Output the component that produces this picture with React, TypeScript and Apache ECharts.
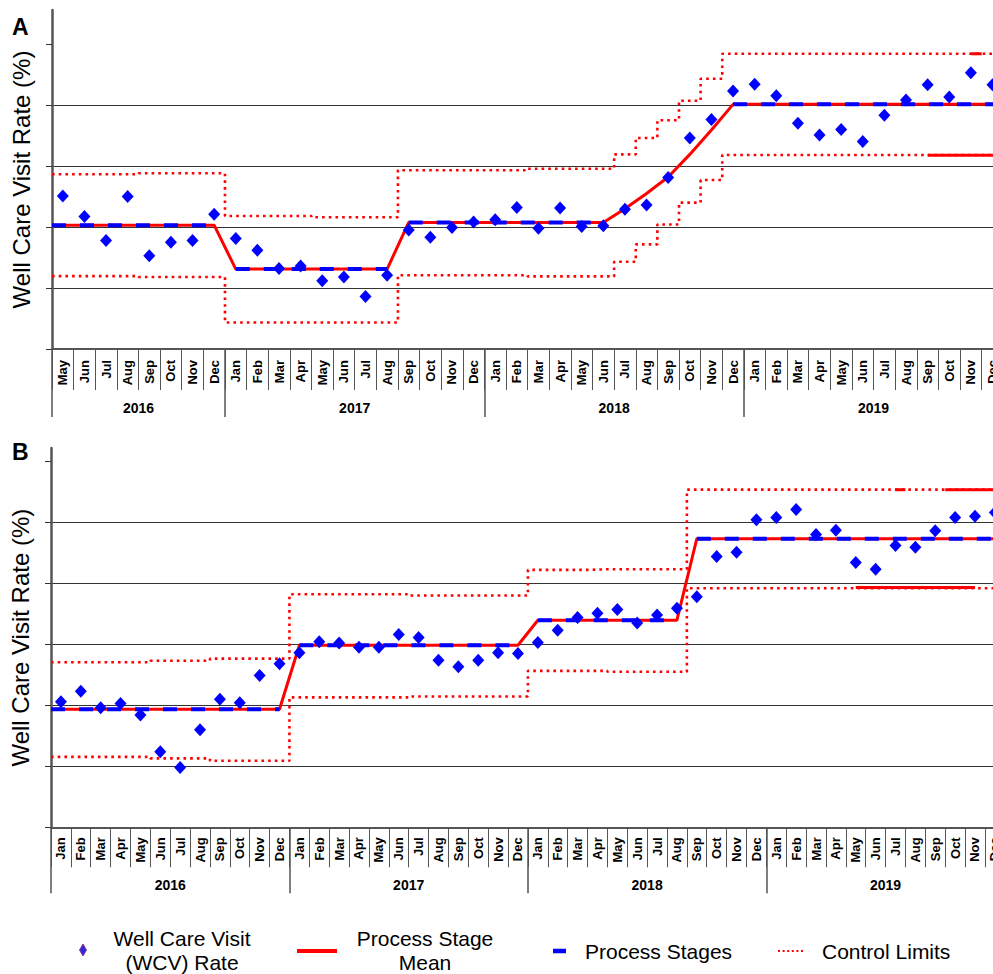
import React, { useEffect, useRef } from 'react';
import * as echarts from 'echarts';

const FONT = '"Liberation Sans", Arial, sans-serif';
const MONTH_NAMES = ['Jan', 'Feb', 'Mar', 'Apr', 'May', 'Jun', 'Jul', 'Aug', 'Sep', 'Oct', 'Nov', 'Dec'];

// ---------- Panel A: May 2016 – Dec 2019 ----------
const yearsA = ['2016', '2017', '2018', '2019'];
const monthsInYearA = [8, 12, 12, 12];
const monthsA = [...MONTH_NAMES.slice(4), ...MONTH_NAMES, ...MONTH_NAMES, ...MONTH_NAMES];

const rateA = [
  55.1, 51.7, 47.8, 55.0, 45.3, 47.5, 47.8, 52.1,
  48.1, 46.2, 43.2, 43.6, 41.2, 41.8, 38.6, 42.1, 49.5, 48.3, 49.9, 50.8,
  51.2, 53.2, 49.8, 53.1, 50.1, 50.2, 52.9, 53.6, 58.1, 64.6, 67.6, 72.3,
  73.4, 71.5, 67.0, 65.1, 66.0, 64.0, 68.3, 70.8, 73.3, 71.3, 75.3, 73.3,
];
const meanA = [
  50.3, 50.3, 50.3, 50.3, 50.3, 50.3, 50.3, 50.3,
  43.1, 43.1, 43.1, 43.1, 43.1, 43.1, 43.1, 43.1, 50.75, 50.75, 50.75, 50.75,
  50.75, 50.75, 50.75, 50.75, 50.75, 50.75, 53.0, 55.5, 58.2, 61.9, 65.9, 70.1,
  70.1, 70.1, 70.1, 70.1, 70.1, 70.1, 70.1, 70.1, 70.1, 70.1, 70.1, 70.1,
];
const stageA = [
  50.3, 50.3, 50.3, 50.3, 50.3, 50.3, 50.3, 50.3,
  43.1, 43.1, 43.1, 43.1, 43.1, 43.1, 43.1, 43.1, 50.75, 50.75, 50.75, 50.75,
  50.75, 50.75, 50.75, 50.75, 50.75, 50.75, null, null, null, null, null, 70.1,
  70.1, 70.1, 70.1, 70.1, 70.1, 70.1, 70.1, 70.1, 70.1, 70.1, 70.1, 70.1,
];
const upperA = [
  58.65, 58.65, 58.65, 58.65, 58.8, 58.8, 58.8, 58.8,
  51.8, 51.8, 51.8, 51.8, 51.6, 51.6, 51.6, 51.6, 59.3, 59.3, 59.3, 59.3,
  59.3, 59.3, 59.55, 59.55, 59.55, 59.55, 61.9, 64.6, 67.5, 70.7, 74.3, 78.4,
  78.4, 78.4, 78.4, 78.4, 78.4, 78.4, 78.4, 78.4, 78.4, 78.4, 78.4, 78.4,
];
const lowerA = [
  41.95, 41.95, 41.95, 41.95, 41.8, 41.8, 41.8, 41.8,
  34.35, 34.35, 34.35, 34.35, 34.35, 34.35, 34.35, 34.35, 42.1, 42.1, 42.1, 42.1,
  42.1, 42.1, 41.9, 41.9, 41.9, 41.9, 44.3, 47.15, 50.4, 54.0, 57.7, 61.8,
  61.8, 61.8, 61.8, 61.8, 61.8, 61.8, 61.8, 61.8, 61.8, 61.8, 61.8, 61.8,
];
// solid red fragments on the limits: [from month position, to month position, value]
const fragmentsA = [
  [40.5, 44, 61.75],
  [42.5, 43, 78.4],
];

// ---------- Panel B: Jan 2016 – Dec 2019 ----------
const yearsB = ['2016', '2017', '2018', '2019'];
const monthsInYearB = [12, 12, 12, 12];
const monthsB = [...MONTH_NAMES, ...MONTH_NAMES, ...MONTH_NAMES, ...MONTH_NAMES];

const rateB = [
  40.6, 42.3, 39.6, 40.3, 38.4, 32.4, 29.8, 36.0, 41.0, 40.4, 44.9, 46.8,
  48.6, 50.4, 50.2, 49.5, 49.5, 51.6, 51.1, 47.4, 46.3, 47.4, 48.6, 48.5,
  50.3, 52.3, 54.4, 55.1, 55.7, 53.5, 54.8, 55.9, 57.8, 64.4, 65.1, 70.4,
  70.8, 72.1, 68.0, 68.7, 63.4, 62.3, 66.2, 65.9, 68.6, 70.8, 71.0, 71.6,
];
const meanB = [
  39.35, 39.35, 39.35, 39.35, 39.35, 39.35, 39.35, 39.35, 39.35, 39.35, 39.35, 39.35,
  49.85, 49.85, 49.85, 49.85, 49.85, 49.85, 49.85, 49.85, 49.85, 49.85, 49.85, 49.85,
  53.95, 53.95, 53.95, 53.95, 53.95, 53.95, 53.95, 53.95, 67.3, 67.3, 67.3, 67.3,
  67.3, 67.3, 67.3, 67.3, 67.3, 67.3, 67.3, 67.3, 67.3, 67.3, 67.3, 67.3,
];
const stageB = meanB.slice();
const upperB = [
  47.05, 47.05, 47.05, 47.05, 47.05, 47.3, 47.3, 47.3, 47.65, 47.65, 47.65, 47.65,
  58.2, 58.2, 58.2, 58.2, 58.2, 58.2, 58.0, 58.0, 58.0, 58.0, 58.0, 58.0,
  62.2, 62.2, 62.2, 62.3, 62.3, 62.3, 62.3, 62.3, 75.35, 75.35, 75.35, 75.35,
  75.35, 75.35, 75.35, 75.35, 75.35, 75.35, 75.35, 75.35, 75.35, 75.35, 75.35, 75.35,
];
const lowerB = [
  31.55, 31.55, 31.55, 31.55, 31.55, 31.3, 31.3, 31.3, 30.9, 30.9, 30.9, 30.9,
  41.3, 41.3, 41.3, 41.3, 41.3, 41.3, 41.45, 41.45, 41.45, 41.45, 41.45, 41.45,
  45.65, 45.65, 45.65, 45.65, 45.5, 45.5, 45.5, 45.5, 59.2, 59.2, 59.2, 59.2,
  59.2, 59.2, 59.2, 59.2, 59.2, 59.2, 59.2, 59.2, 59.2, 59.2, 59.2, 59.2,
];
const fragmentsB = [
  [42.5, 43, 75.35],
  [45, 48, 75.35],
  [40.5, 46.5, 59.3],
];

// y ranges (no labels shown in the original)
const yMinA = 30, yGridMaxA = 80, yMaxA = 85.57;
const yMinB = 20, yGridMaxB = 80, yMaxB = 82.18;

// ---------- helpers ----------
const centerLine = (vals: number[]) => {
  const out: any[] = [[0, vals[0]]];
  vals.forEach((v, i) => out.push([i + 0.5, v]));
  out.push([vals.length, vals[vals.length - 1]]);
  return out;
};
const stageLine = (vals: (number | null)[]) => {
  const out: any[] = [];
  if (vals[0] != null) out.push([0, vals[0]]);
  vals.forEach((v, i) => {
    if (i > 0 && v !== vals[i - 1]) out.push([i, '-']);
    out.push([i + 0.5, v == null ? '-' : v]);
  });
  const last = vals[vals.length - 1];
  if (last != null) out.push([vals.length, last]);
  return out;
};
const stepLine = (vals: number[]) => vals.flatMap((v, i) => [[i, v], [i + 1, v]]);
const yearBounds = (counts: number[]) => {
  const b = [0];
  counts.forEach((c) => b.push(b[b.length - 1] + c));
  return b;
};
const yearCenters = (counts: number[]) => {
  const b = yearBounds(counts);
  return counts.map((_, i) => (b[i] + b[i + 1]) / 2);
};

const AXIS_GRAY = '#555';

function buildPanel(
  gi: number,
  months: string[],
  years: string[],
  counts: number[],
  yMin: number,
  yGridMax: number,
  yMax: number,
  tickLen: number,
  yearTickLen: number,
  monthMargin: number,
  yearMargin: number,
) {
  const n = months.length;
  const bounds = yearBounds(counts);
  const centers = yearCenters(counts);
  const yTicks: number[] = [];
  for (let v = yMin; v <= yGridMax; v += 10) yTicks.push(v);
  const xAxes = [
    {
      type: 'category',
      gridIndex: gi,
      position: 'bottom',
      data: months,
      boundaryGap: true,
      axisLine: { show: true, onZero: false, lineStyle: { color: AXIS_GRAY, width: 2 } },
      axisTick: { show: true, interval: 0, length: tickLen, lineStyle: { color: AXIS_GRAY, width: 1 } },
      axisLabel: {
        interval: 0,
        rotate: 90,
        margin: monthMargin,
        fontSize: 13,
        fontWeight: 'bold',
        fontFamily: FONT,
        color: '#000',
      },
      splitLine: { show: false },
    },
    {
      type: 'value',
      gridIndex: gi,
      position: 'bottom',
      min: 0,
      max: n,
      axisLine: { show: false, onZero: false },
      axisTick: {
        show: true,
        customValues: bounds,
        length: yearTickLen,
        lineStyle: { color: AXIS_GRAY, width: 1.5 },
      },
      axisLabel: {
        show: true,
        customValues: centers,
        margin: yearMargin,
        fontSize: 14,
        fontWeight: 'bold',
        fontFamily: FONT,
        color: '#000',
        formatter: (v: number) => {
          const k = centers.findIndex((c) => Math.abs(c - v) < 1e-6);
          return k >= 0 ? years[k] : '';
        },
      },
      splitLine: { show: false },
    },
  ];
  const yAxis = {
    type: 'value',
    gridIndex: gi,
    min: yMin,
    max: yMax,
    interval: 10,
    name: 'Well Care Visit Rate (%)',
    nameLocation: 'middle',
    nameRotate: 90,
    nameGap: 19,
    nameTextStyle: { fontSize: 24, fontFamily: FONT, color: '#000' },
    axisLine: { show: true, onZero: false, lineStyle: { color: AXIS_GRAY, width: 2.5 } },
    axisTick: { show: true, customValues: yTicks, length: 6, lineStyle: { color: '#333', width: 1 } },
    axisLabel: { show: false },
    splitLine: { show: true, showMinLine: false, showMaxLine: false, lineStyle: { color: '#333', width: 1 } },
  };
  return { xAxes, yAxis };
}

function panelSeries(
  xCat: number,
  xVal: number,
  yi: number,
  rate: number[],
  mean: number[],
  stage: (number | null)[],
  upper: number[],
  lower: number[],
  fragments: number[][],
) {
  const dotted = { color: '#ff0000', width: 2.6, type: [2.6, 4.1] };
  const s: any[] = [
    {
      name: 'Control Limits',
      type: 'line',
      xAxisIndex: xVal,
      yAxisIndex: yi,
      data: stepLine(upper),
      symbol: 'none',
      lineStyle: dotted,
      z: 2,
    },
    {
      name: 'Control Limits',
      type: 'line',
      xAxisIndex: xVal,
      yAxisIndex: yi,
      data: stepLine(lower),
      symbol: 'none',
      lineStyle: dotted,
      z: 2,
    },
    {
      name: 'Process Stage Mean',
      type: 'line',
      xAxisIndex: xVal,
      yAxisIndex: yi,
      data: centerLine(mean),
      symbol: 'none',
      lineStyle: { color: '#ff0000', width: 3 },
      z: 3,
    },
    {
      name: 'Process Stages',
      type: 'line',
      xAxisIndex: xVal,
      yAxisIndex: yi,
      data: stageLine(stage),
      symbol: 'none',
      connectNulls: false,
      lineStyle: { color: '#0000ff', width: 4, type: [14, 14] },
      z: 4,
    },
  ];
  fragments.forEach((f) => {
    s.push({
      name: 'Process Stage Mean',
      type: 'line',
      xAxisIndex: xVal,
      yAxisIndex: yi,
      data: [[f[0], f[2]], [f[1], f[2]]],
      symbol: 'none',
      lineStyle: { color: '#ff0000', width: 3 },
      z: 3,
    });
  });
  s.push({
    name: 'Well Care Visit (WCV) Rate',
    type: 'scatter',
    xAxisIndex: xCat,
    yAxisIndex: yi,
    data: rate,
    symbol: 'diamond',
    symbolSize: [12, 13],
    itemStyle: { color: '#0000ff', opacity: 1 },
    z: 5,
  });
  return s;
}

export default function App() {
  const ref = useRef<HTMLDivElement>(null);
  useEffect(() => {
    if (!ref.current) return;
    const chart = echarts.init(ref.current, null, { renderer: 'svg' });
    const pA = buildPanel(0, monthsA, yearsA, monthsInYearA, yMinA, yGridMaxA, yMaxA, 41, 68, 11, 52);
    const pB = buildPanel(1, monthsB, yearsB, monthsInYearB, yMinB, yGridMaxB, yMaxB, 40, 66, 10, 51);
    const legendFont = `21px ${FONT}`;
    const option: any = {
      animation: false,
      textStyle: { fontFamily: FONT },
      grid: [
        { left: 52, top: 10, width: 951.3, height: 339 },
        { left: 51, top: 448, width: 953.8, height: 379.3 },
      ],
      xAxis: [...pA.xAxes, ...pB.xAxes],
      yAxis: [pA.yAxis, pB.yAxis],
      series: [
        ...panelSeries(0, 1, 0, rateA, meanA, stageA, upperA, lowerA, fragmentsA),
        ...panelSeries(2, 3, 1, rateB, meanB, stageB, upperB, lowerB, fragmentsB),
      ],
      graphic: [
        { type: 'text', x: 12, y: 27, style: { text: 'A', font: `bold 23px ${FONT}`, fill: '#000', align: 'left', verticalAlign: 'middle' } },
        { type: 'text', x: 12, y: 452, style: { text: 'B', font: `bold 23px ${FONT}`, fill: '#000', align: 'left', verticalAlign: 'middle' } },
        // legend
        { type: 'polygon', shape: { points: [[83, 944], [86.5, 950], [83, 956], [79.5, 950]] }, style: { fill: '#2a2ae0', stroke: '#8a3a8a', lineWidth: 1 } },
        { type: 'text', x: 182, y: 950, style: { text: 'Well Care Visit\n(WCV) Rate', font: legendFont, lineHeight: 24, fill: '#000', align: 'center', verticalAlign: 'middle' } },
        { type: 'line', shape: { x1: 297, y1: 951, x2: 337, y2: 951 }, style: { stroke: '#ff0000', lineWidth: 4 } },
        { type: 'text', x: 425, y: 950, style: { text: 'Process Stage\nMean', font: legendFont, lineHeight: 24, fill: '#000', align: 'center', verticalAlign: 'middle' } },
        { type: 'line', shape: { x1: 553, y1: 951, x2: 566, y2: 951 }, style: { stroke: '#0000ff', lineWidth: 4.5 } },
        { type: 'text', x: 585, y: 951, style: { text: 'Process Stages', font: legendFont, fill: '#000', align: 'left', verticalAlign: 'middle' } },
        { type: 'line', shape: { x1: 778, y1: 951, x2: 805, y2: 951 }, style: { stroke: '#ff0000', lineWidth: 2.2, lineDash: [2, 2.6] } },
        { type: 'text', x: 822, y: 951, style: { text: 'Control Limits', font: legendFont, fill: '#000', align: 'left', verticalAlign: 'middle' } },
      ],
    };
    chart.setOption(option);
    return () => chart.dispose();
  }, []);
  return (
    <div style={{ position: 'fixed', left: 0, top: 0, width: 993, height: 974, overflow: 'hidden', background: '#fff' }}>
      <div ref={ref} style={{ width: 1010, height: 974 }} />
    </div>
  );
}
